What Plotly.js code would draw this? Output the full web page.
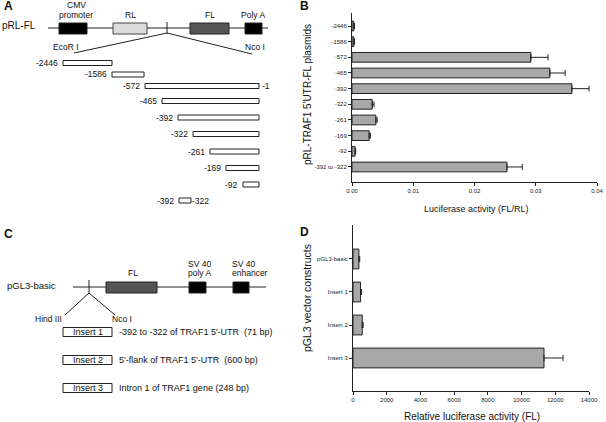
<!DOCTYPE html>
<html><head><meta charset="utf-8">
<script src="https://cdn.plot.ly/plotly-3.0.1.min.js"></script>
<style>html,body{margin:0;padding:0;background:#fff}#chart{width:606px;height:422px}</style>
</head><body><div id="chart"></div>
<script>
// ---- Panel B data ----
const bCategories = ['-2446','-1586','-572','-465','-392','-322','-261','-169','-92','-392 to -322'];
const bValues = [0.0003, 0.0003, 0.0292, 0.0323, 0.0359, 0.0033, 0.0039, 0.0028, 0.0005, 0.0253];
const bErrors = [0.0001, 0.0001, 0.0028, 0.0025, 0.0028, 0.0003, 0.0002, 0.0002, 0.0001, 0.0025];
const bTickVals = [0, 0.01, 0.02, 0.03, 0.04];

// ---- Panel D data ----
const dCategories = ['pGL3-basic','Insert 1','Insert 2','Insert 3'];
const dValues = [350, 450, 550, 11330];
const dErrors = [50, 60, 50, 1130];
const dTickVals = [0, 2000, 4000, 6000, 8000, 10000, 12000, 14000];

// ---- Panel A / C labels ----
const aFragments = ['-2446','-1586','-572','-465','-392','-322','-261','-169','-92'];
const cInserts = ['Insert 1','Insert 2','Insert 3'];
const cInsertTexts = ["-392 to -322 of TRAF1 5'-UTR  (71 bp)", "5'-flank of TRAF1 5'-UTR  (600 bp)", "Intron 1 of TRAF1 gene (248 bp)"];

// ---- Diagram geometry (pixels) ----
const W = 606, H = 422;
const FONT = 'Liberation Sans, Arial, sans-serif';
const X = p => p / W, Y = p => 1 - p / H;
const shapes = [], ann = [];
function rect(x0, y0, x1, y1, fill, lc) {
  shapes.push({type:'rect', xref:'paper', yref:'paper', x0:X(x0), x1:X(x1), y0:Y(y1), y1:Y(y0),
    fillcolor:fill, line:{color:lc || '#222', width:1}});
}
function line(x0, y0, x1, y1, w) {
  shapes.push({type:'line', xref:'paper', yref:'paper', x0:X(x0), x1:X(x1), y0:Y(y0), y1:Y(y1),
    line:{color:'#222', width:w || 1}});
}
function text(t, x, y, anchor, size, opts) {
  ann.push(Object.assign({text:t, x:X(x), y:Y(y), xref:'paper', yref:'paper', showarrow:false,
    xanchor:anchor || 'center', yanchor:'middle', font:{family:FONT, size:size || 9, color:'#111'}}, opts || {}));
}

// Panel A
text('<b>A</b>', 2, 6, 'left', 12);
text('pRL-FL', 0, 25, 'left', 10);
line(48, 28, 268, 28);
rect(59, 23, 87, 34, '#000');
rect(113, 23, 147, 34, '#dcdcdc', '#444');
line(167, 22, 167, 34);
rect(190, 23, 229, 34, '#555', '#222');
rect(245, 23, 262, 34, '#000');
line(167, 33, 74, 53);
line(167, 33, 252, 54);
text('CMV', 76, 5, 'center', 8.5);
text('promoter', 76, 15, 'center', 8.5);
text('RL', 130, 15, 'center', 8.5);
text('FL', 210, 15, 'center', 8.5);
text('Poly A', 253, 15, 'center', 8.5);
text('EcoR I', 66, 47, 'center', 8.5);
text('Nco I', 255, 47, 'center', 8.5);
const aGeom = [[63,112,63],[112,144,74.5],[145,259,86],[162,259,101],[178,259,117.5],[193,259,134],[210,259,151.5],[226,259,168],[243,259,184.5]];
aFragments.forEach((lab, i) => {
  const g = aGeom[i];
  rect(g[0], g[2]-2.5, g[1], g[2]+2.5, '#fff', '#222');
  text(lab, g[0]-3, g[2], 'right', 8.5);
});
text('-1', 260, 86, 'left', 8.5);
rect(179, 198, 191, 203, '#fff', '#222');
text(aFragments[4], 176, 200.5, 'right', 8.5);
text(aFragments[5], 190, 200.5, 'left', 8.5);

// Panel C
text('<b>C</b>', 2, 234, 'left', 12);
text('pGL3-basic', 5, 285, 'left', 9.5);
line(73, 287, 266, 287);
line(89, 280, 89, 294);
rect(106, 282, 157, 293, '#555', '#222');
rect(189, 282, 206, 293, '#000');
rect(233, 282, 249, 293, '#000');
line(89, 293, 65, 315);
line(89, 293, 115, 315);
text('FL', 133, 273, 'center', 8.5);
text('SV 40', 186, 264, 'left', 8.5);
text('poly A', 186, 273, 'left', 8.5);
text('SV 40', 230, 264, 'left', 8.5);
text('enhancer', 230, 273, 'left', 8.5);
text('Hind III', 48, 319, 'center', 8.5);
text('Nco I', 122, 319, 'center', 8.5);
const cY = [332, 360, 388];
cInserts.forEach((lab, i) => {
  rect(63, cY[i]-4.5, 112, cY[i]+4.5, '#fff', '#222');
  text(lab, 87.5, cY[i], 'center', 9);
  text(cInsertTexts[i], 117, cY[i], 'left', 9);
});

// Panel letters / axis titles for B and D
text('<b>B</b>', 298, 6, 'left', 12);
text('<b>D</b>', 298, 232, 'left', 12);
text('Luciferase activity (FL/RL)', 476, 209, 'center', 9);
text("pRL-TRAF1 5'UTR-FL plasmids", 307, 95, 'center', 10, {textangle:-90});
text('Relative luciferase activity (FL)', 472, 416, 'center', 10);
text('pGL3 vector constructs', 307, 298, 'center', 10.5, {textangle:-90});

const axCommon = {showline:true, linecolor:'#222', linewidth:1, ticks:'outside', ticklen:3,
  tickcolor:'#222', showgrid:false, zeroline:false, tickfont:{family:FONT, size:6, color:'#222'}};

const traces = [
  {type:'bar', orientation:'h', y:bCategories, x:bValues, xaxis:'x', yaxis:'y', width:0.62,
   marker:{color:'#a8a8a8', line:{color:'#222', width:1}},
   error_x:{type:'data', array:bErrors, arrayminus:bErrors.map(()=>0), symmetric:false, color:'#222', thickness:1, width:3}},
  {type:'bar', orientation:'h', y:dCategories, x:dValues, xaxis:'x2', yaxis:'y2', width:0.6,
   marker:{color:'#a8a8a8', line:{color:'#222', width:1}},
   error_x:{type:'data', array:dErrors, arrayminus:dErrors.map(()=>0), symmetric:false, color:'#222', thickness:1, width:3}}
];

const layout = {
  width:W, height:H, margin:{l:0, r:0, t:0, b:0}, showlegend:false,
  paper_bgcolor:'#fff', plot_bgcolor:'rgba(0,0,0,0)',
  xaxis: Object.assign({}, axCommon, {domain:[X(352), X(597)], anchor:'y', range:[0, 0.04],
    tickvals:bTickVals, tickformat:'.2f'}),
  yaxis: Object.assign({}, axCommon, {domain:[Y(182), Y(13)], anchor:'x', type:'category',
    range:[9.96, -0.83]}),
  xaxis2: Object.assign({}, axCommon, {domain:[X(353), X(589)], anchor:'y2', range:[0, 14000],
    tickvals:dTickVals, tickformat:'d'}),
  yaxis2: Object.assign({}, axCommon, {domain:[Y(391), Y(225)], anchor:'x2', type:'category',
    range:[4.0, -1.03]}),
  shapes:shapes, annotations:ann, bargap:0.35
};
Plotly.newPlot('chart', traces, layout, {displayModeBar:false, staticPlot:true});
</script></body></html>
